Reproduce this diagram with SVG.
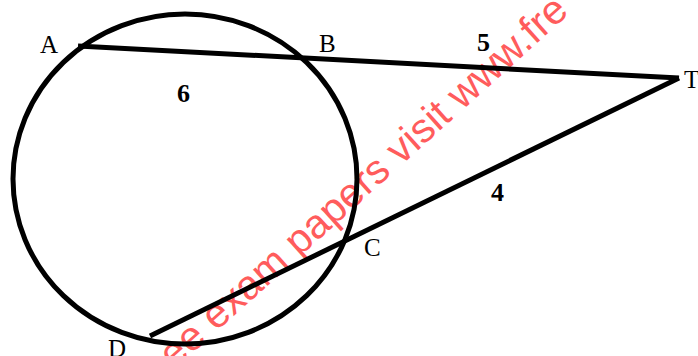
<svg xmlns="http://www.w3.org/2000/svg" width="698" height="356" viewBox="0 0 698 356">
<style>
.ln{stroke:#000;stroke-width:5;fill:none;stroke-linecap:butt}
.lbl{font-family:"Liberation Serif","Times New Roman",serif;font-size:25px;fill:#000}
.num{font-family:"Liberation Serif","Times New Roman",serif;font-size:26px;font-weight:bold;fill:#000}
.wm{font-family:"Liberation Sans",Arial,sans-serif;font-size:41px;fill:#ff5c5c}
</style>
<rect width="698" height="356" fill="#fff"/>
<text class="wm" transform="translate(174,370) rotate(-42)">ee exam papers visit www.fre</text>
<g id="circle"><ellipse class="ln" cx="185" cy="179" rx="172" ry="165"/></g>
<g id="connectors">
<line class="ln" x1="78" y1="46" x2="679" y2="78"/>
<line class="ln" x1="150" y1="336" x2="679" y2="78"/>
</g>
<g id="A"><text class="lbl" x="40" y="53">A</text></g>
<g id="B"><text class="lbl" x="319" y="52">B</text></g>
<g id="T"><text class="lbl" x="684" y="88">T</text></g>
<g id="C"><text class="lbl" x="364" y="256">C</text></g>
<g id="D"><text class="lbl" x="108" y="357">D</text></g>
<g id="n6"><text class="num" x="177" y="102">6</text></g>
<g id="n5"><text class="num" x="477" y="51">5</text></g>
<g id="n4"><text class="num" x="491" y="201">4</text></g>
</svg>
